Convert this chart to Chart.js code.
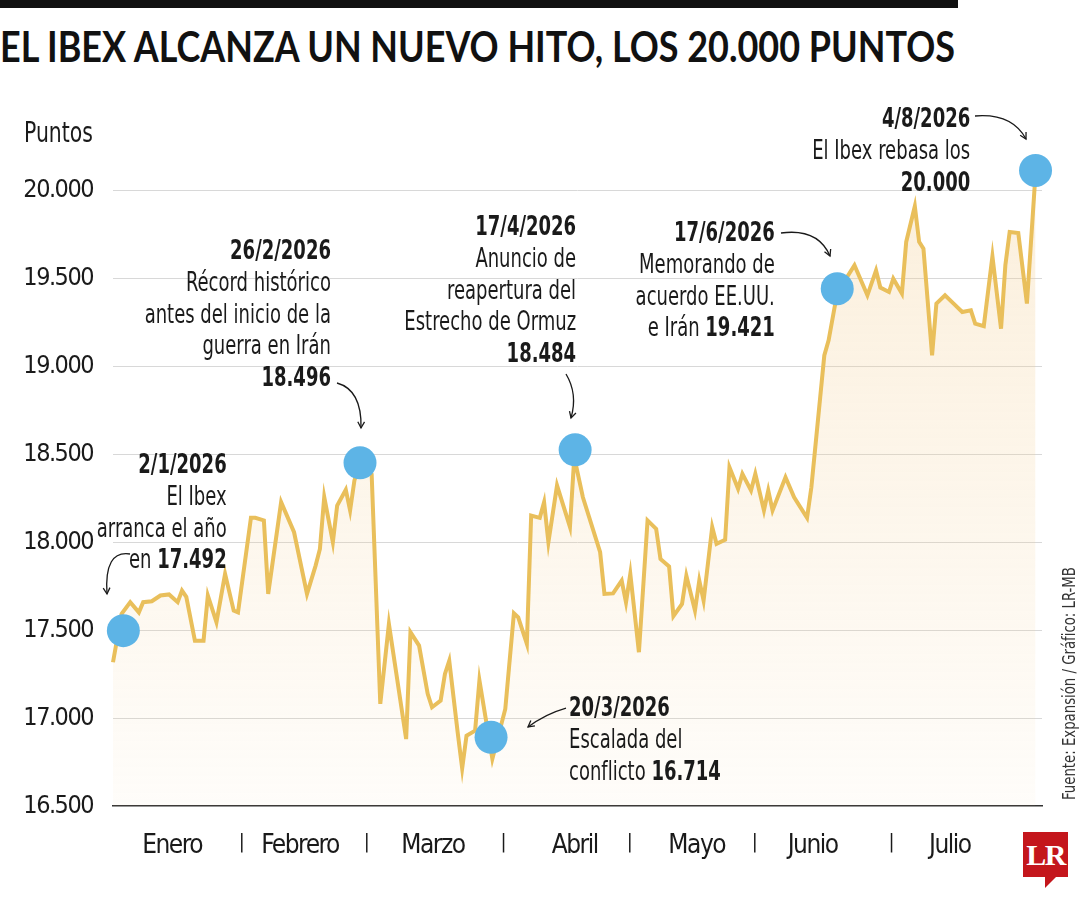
<!DOCTYPE html>
<html lang="es">
<head>
<meta charset="utf-8">
<title>El Ibex alcanza un nuevo hito, los 20.000 puntos</title>
<script src="https://cdn.jsdelivr.net/npm/chart.js@4.4.1/dist/chart.umd.min.js"></script>
<style>
  html, body { margin: 0; padding: 0; background: #fff; }
  #wrap {
    position: relative; width: 1080px; height: 900px; overflow: hidden;
    font-family: "DejaVu Sans Condensed", "Liberation Sans Narrow", sans-serif;
    color: #1a1a1a;
  }
  #topbar { position: absolute; left: 0; top: 0; width: 958px; height: 8px; background: #111; }
  #title {
    position: absolute; left: 0; top: 25px; line-height: 42px;
    font-family: Lato, "Open Sans", sans-serif; font-weight: 700; font-size: 42px;
    white-space: nowrap; transform-origin: 0 0; color: #111;
  }
  #chart { position: absolute; left: 0; top: 0; }
  #unit {
    position: absolute; left: 24px; top: 119px; font-size: 28px; line-height: 28px;
    transform-origin: 0 0; transform: scaleX(0.81);
  }
  .note { position: absolute; font-size: 26px; line-height: 31.8px; white-space: nowrap; }
  .note.r { text-align: right; transform-origin: 100% 0; transform: scaleX(0.77); }
  .note.l { text-align: left; transform-origin: 0 0; transform: scaleX(0.77); }
  .note b { font-weight: 700; }
  #source {
    position: absolute; left: 1059px; top: 800px; font-size: 18px; line-height: 20px;
    white-space: nowrap; transform-origin: 0 0; transform: rotate(-90deg) scaleX(0.82); color: #333;
  }
  #logo {
    position: absolute; left: 1023px; top: 832px; width: 45px; height: 45px;
    background: #c4161c; color: #fff; text-align: center;
    font-family: "Liberation Serif", serif; font-weight: 700; font-size: 30px; line-height: 46px;
    letter-spacing: -1.5px;
  }
  #logo::after {
    content: ""; position: absolute; left: 22px; top: 45px; width: 0; height: 0;
    border-top: 11px solid #c4161c; border-right: 11px solid transparent;
  }
</style>
</head>
<body>
<div id="wrap">
  <div id="topbar"></div>
  <div id="title">EL IBEX ALCANZA UN NUEVO HITO, LOS 20.000 PUNTOS</div>
  <canvas id="chart" width="1080" height="900"></canvas>
  <div id="unit">Puntos</div>

  <div class="note r" style="right:853px; top:449px;"><b>2/1/2026</b><br>El Ibex<br>arranca el año<br>en <b>17.492</b></div>
  <div class="note r" style="right:749px; top:235px;"><b>26/2/2026</b><br>Récord histórico<br>antes del inicio de la<br>guerra en Irán<br><b>18.496</b></div>
  <div class="note r" style="right:504px; top:211px;"><b>17/4/2026</b><br>Anuncio de<br>reapertura del<br>Estrecho de Ormuz<br><b>18.484</b></div>
  <div class="note r" style="right:305px; top:217px;"><b>17/6/2026</b><br>Memorando de<br>acuerdo EE.UU.<br>e Irán <b>19.421</b></div>
  <div class="note r" style="right:110px; top:103px;"><b>4/8/2026</b><br>El Ibex rebasa los<br><b>20.000</b></div>
  <div class="note l" style="left:569px; top:692px;"><b>20/3/2026</b><br>Escalada del<br>conflicto <b>16.714</b></div>

  <div id="source">Fuente: Expansión / Gráfico: LR-MB</div>
  <div id="logo">LR</div>
</div>

<script>
// Ibex 35 close, 2026 (x = day of the year)
const days = [2, 4, 6, 8, 9, 11, 13, 15, 17, 18, 19, 21, 23, 24, 26, 28, 30, 31,
  34, 35, 37, 38, 41, 44, 47, 49, 50, 51, 53, 54, 56, 57, 58, 60, 62,
  64, 66, 70, 71, 73, 75, 76, 78, 79, 80, 82, 83, 84, 86, 87, 90, 93,
  95, 96, 98, 99, 101, 102, 103, 105, 108, 109, 111, 115, 116, 118, 120, 121, 122, 124,
  126, 128, 129, 131, 132, 134, 135, 137, 138, 139, 141, 142, 144, 145, 147, 148, 150,
  151, 153, 154, 155, 158, 160, 163, 164, 167, 168, 170, 174, 177, 179, 180,
  182, 183, 185, 186, 188, 189, 190, 192, 193, 195, 197, 199, 201, 202, 204,
  206, 208, 209, 210, 212, 214, 216];
const values = [17318, 17593, 17660, 17602, 17660, 17665, 17698, 17704, 17660, 17726, 17690, 17441, 17441, 17698, 17546, 17821, 17612, 17602,
  18140, 18140, 18125, 17707, 18229, 18058, 17707, 17868, 17963, 18258, 18001, 18210, 18300, 18182, 18353, 18496, 18388,
  17081, 17536, 16881, 17489, 17413, 17138, 17062, 17100, 17252, 17327, 16910, 16714, 16900, 16929, 17215, 16768, 17052,
  17597, 17574, 17423, 18153, 18140, 18229, 18001, 18324, 18088, 18484, 18257, 17944, 17707, 17710, 17783, 17659, 17821, 17375,
  18125, 18077, 17906, 17863, 17581, 17650, 17811, 17612, 17783, 17669, 18087, 17992, 18015, 18428, 18305, 18390, 18296,
  18390, 18182, 18296, 18182, 18371, 18257, 18140, 18314, 19064, 19150, 19421, 19577, 19406, 19548, 19450,
  19425, 19501, 19416, 19710, 19913, 19710, 19672, 19064, 19359, 19406, 19359, 19311, 19321, 19245, 19231,
  19628, 19216, 19577, 19767, 19761, 19359, 20100];

// highlighted dates (blue dots)
const dotDays = [4.4, 59.3, 89.7, 109.2, 170, 216];
const dotValues = [17498, 18453, 16891, 18527, 19444, 20117];

const yTicks = [16500, 17000, 17500, 18000, 18500, 19000, 19500, 20000];
const monthNames = ['Enero', 'Febrero', 'Marzo', 'Abril', 'Mayo', 'Junio', 'Julio'];
const monthCenters = [15.7, 45.4, 76.2, 109.1, 137.4, 164.3, 196.1];
const monthBreaks = [31.7, 60.7, 92.4, 121.7, 150.7, 182.4];

const FONT = '"DejaVu Sans Condensed", "Liberation Sans Narrow", sans-serif';

function fmt(v) {
    return String(v).replace(/\B(?=(\d{3})+(?!\d))/g, '.');
}

// callout arrows (canvas px): start, control, end
const arrows = [
    [[130, 554], [104, 550], [107, 594]],
    [[337, 383], [362, 390], [361, 428]],
    [[566, 374], [578, 394], [571, 418]],
    [[781, 233], [818, 228], [830, 256]],
    [[975, 116], [1012, 113], [1026, 139]],
    [[566, 708], [545, 714], [528, 727]]
];

// tighter letters on the canvas, closer to the condensed type of the original
const narrowPlugin = {
    id: 'narrow',
    beforeUpdate(chart) { chart.ctx.letterSpacing = '-1.5px'; },
    beforeDraw(chart) { chart.ctx.letterSpacing = '-1.5px'; }
};

const arrowPlugin = {
    id: 'arrows',
    afterDraw(chart) {
        const c = chart.ctx;
        c.save();
        c.strokeStyle = '#1a1a1a';
        c.lineWidth = 1.3;
        arrows.forEach(([s, q, e]) => {
            c.beginPath();
            c.moveTo(s[0], s[1]);
            c.quadraticCurveTo(q[0], q[1], e[0], e[1]);
            c.stroke();
            const a = Math.atan2(e[1] - q[1], e[0] - q[0]);
            c.beginPath();
            c.moveTo(e[0] - 7 * Math.cos(a - 0.5), e[1] - 7 * Math.sin(a - 0.5));
            c.lineTo(e[0], e[1]);
            c.lineTo(e[0] - 7 * Math.cos(a + 0.5), e[1] - 7 * Math.sin(a + 0.5));
            c.stroke();
        });
        c.restore();
    }
};

const ctx = document.getElementById('chart').getContext('2d');
new Chart(ctx, {
    type: 'line',
    data: {
        datasets: [{
            data: dotDays.map((d, i) => ({ x: d, y: dotValues[i] })),
            showLine: false,
            pointRadius: 16.5,
            pointHoverRadius: 16.5,
            pointBackgroundColor: '#5db4e6',
            pointBorderWidth: 0,
            clip: false,
            order: 1
        }, {
            data: days.map((d, i) => ({ x: d, y: values[i] })),
            borderColor: '#e9bf5b',
            borderWidth: 4,
            borderJoinStyle: 'miter',
            pointRadius: 0,
            tension: 0,
            fill: 'start',
            clip: false,
            order: 2,
            backgroundColor: (context) => {
                const area = context.chart.chartArea;
                if (!area) return 'rgba(244,208,150,0.2)';
                const g = context.chart.ctx.createLinearGradient(0, area.top, 0, area.bottom);
                g.addColorStop(0, 'rgba(244,208,150,0.34)');
                g.addColorStop(1, 'rgba(244,208,150,0.05)');
                return g;
            }
        }]
    },
    options: {
        responsive: false,
        animation: false,
        events: [],
        // top padding leaves room above 20.000 for the last dot
        layout: { padding: { top: 164.6, right: 38, bottom: 0, left: 0 } },
        plugins: { legend: { display: false }, tooltip: { enabled: false } },
        scales: {
            x: {
                type: 'linear',
                min: 2,
                max: 217.5,
                afterFit: (scale) => { scale.height = 900 - 806; },
                afterBuildTicks: (scale) => {
                    const t = monthCenters.map((v, i) => ({ value: v, name: monthNames[i] }))
                        .concat(monthBreaks.map(v => ({ value: v, name: '|' })));
                    scale.ticks = t.sort((a, b) => a.value - b.value);
                },
                grid: { display: false, drawTicks: false },
                border: { display: true, color: '#333', width: 1.5 },
                ticks: {
                    autoSkip: false,
                    maxRotation: 0,
                    padding: 25,
                    color: '#1a1a1a',
                    font: (c) => (c.tick && c.tick.name === '|')
                        ? { family: FONT, size: 20 }
                        : { family: FONT, size: 26 },
                    callback: (value, index, ticks) => ticks[index].name
                }
            },
            y: {
                min: 16500,
                max: 20150,
                afterFit: (scale) => { scale.width = 113; },
                afterBuildTicks: (scale) => { scale.ticks = yTicks.map(v => ({ value: v })); },
                grid: {
                    drawTicks: false,
                    color: (c) => c.tick && c.tick.value === 16500 ? 'rgba(0,0,0,0)' : '#d8d8d8',
                    lineWidth: 1
                },
                border: { display: false },
                ticks: {
                    padding: 20,
                    color: '#1a1a1a',
                    font: { family: FONT, size: 25 },
                    callback: (v) => fmt(v)
                }
            }
        }
    },
    plugins: [narrowPlugin, arrowPlugin]
});

// fit the headline to the width of the top bar
const title = document.getElementById('title');
const w = title.getBoundingClientRect().width;
title.style.transform = 'scaleX(' + (955 / w) + ')';
</script>
</body>
</html>
